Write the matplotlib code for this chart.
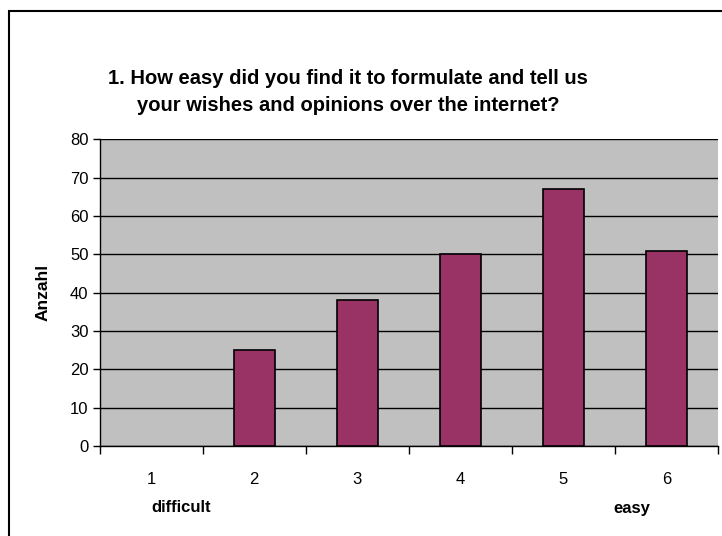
import matplotlib
matplotlib.use("Agg")
import matplotlib.pyplot as plt
from matplotlib.patches import Rectangle
import numpy as np

plt.rcParams['font.family'] = ['Liberation Sans', 'DejaVu Sans']

categories = ['1', '2', '3', '4', '5', '6']
counts = [0, 25, 38, 50, 67, 51]
y_ticks = [0, 10, 20, 30, 40, 50, 60, 70, 80]
title = "1. How easy did you find it to formulate and tell us\nyour wishes and opinions over the internet?"

W, H = 722, 536
fig = plt.figure(figsize=(W / 100, H / 100), dpi=100)
fig.patch.set_facecolor('white')

# chart border (left and top edges visible)
fig.patches.append(Rectangle((9 / W, -0.05), 1.2, 1 - 11 / H + 0.05,
                             transform=fig.transFigure, fill=False,
                             edgecolor='black', linewidth=1.5))

ax = fig.add_axes([99.6 / W, 1 - 446 / H, (718 - 99.6) / W, (446 - 139.4) / H])
ax.set_facecolor('#C0C0C0')

x = np.arange(len(categories))
edges = ['black' if v > 0 else 'none' for v in counts]
ax.bar(x, counts, width=0.4, color='#993366', edgecolor=edges, linewidth=1.2, zorder=3)

ax.set_xlim(-0.5, len(categories) - 0.5)
ax.set_ylim(0, 80)
ax.set_yticks(y_ticks)
ax.yaxis.grid(True, color='black', linewidth=1.0, zorder=1)
ax.set_axisbelow(True)

# category labels between boundary ticks
ax.set_xticks(np.arange(-0.5, len(categories) + 0.5, 1))
ax.set_xticklabels([])
ax.set_xticks(x, minor=True)
ax.set_xticklabels(categories, minor=True)
ax.tick_params(axis='x', which='major', direction='out', length=6, width=1, color='black')
ax.tick_params(axis='x', which='minor', length=0, pad=19, labelsize=12)
ax.tick_params(axis='y', direction='out', length=5, width=1, labelsize=12, pad=3)

for side in ['top', 'right']:
    ax.spines[side].set_visible(False)
for side in ['left', 'bottom']:
    ax.spines[side].set_color('black')
    ax.spines[side].set_linewidth(1.0)

ax.set_ylabel('Anzahl', fontsize=12.5, fontweight='bold', labelpad=14)

fig.text(348 / W, 1 - 92 / H, title, ha='center', va='center',
         fontsize=14.5, fontweight='bold', linespacing=1.5)

fig.text(181 / W, 1 - 508 / H, 'difficult', ha='center', va='center',
         fontsize=12, fontweight='bold')
fig.text(632 / W, 1 - 508 / H, 'easy', ha='center', va='center',
         fontsize=12, fontweight='bold')

fig.savefig('out.png', dpi=100)
